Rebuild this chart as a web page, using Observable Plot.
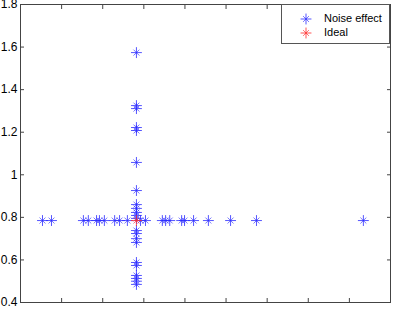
<!DOCTYPE html>
<html><head><meta charset="utf-8">
<script src="https://cdn.jsdelivr.net/npm/d3@7"></script>
<script src="https://cdn.jsdelivr.net/npm/@observablehq/plot@0.6"></script>
<style>
body{margin:0;background:#fff;font-family:"Liberation Sans",Arial,sans-serif;}
#wrap{position:relative;width:393px;height:310px;overflow:hidden;}
#legend{position:absolute;left:281px;top:4px;width:107px;height:38px;border:1px solid #555;background:#fff;font-size:11px;color:#000;}
.row{position:absolute;left:0;height:14px;line-height:14px;}
.row svg{position:absolute;left:18px;top:2px;}
.row span{position:absolute;left:42px;white-space:nowrap;}
</style></head><body>
<div id="wrap"></div>
<script>
// Noise-effect points: horizontal row (x positions at y = rowY)
const rowX = [0.535, 0.754, 1.53, 1.65, 1.85, 1.92, 2.04, 2.29, 2.41, 2.60, 2.92, 3.04, 3.45, 3.53, 3.63, 3.92, 3.99, 4.21, 4.57, 5.11, 5.74, 8.34];
const rowY = 0.785;
// vertical column (y values at x = colX)
const colX = 2.82;
const colY = [1.574, 1.325, 1.311, 1.222, 1.208, 1.058, 0.926, 0.860, 0.842, 0.823, 0.809, 0.795, 0.738, 0.724, 0.700, 0.682, 0.588, 0.574, 0.527, 0.513, 0.500, 0.485];
// ideal point
const idealX = [2.82];
const idealY = [0.785];
const xTicks = [0,1,2,3,4,5,6,7,8,9];
const yTicks = [0.4,0.6,0.8,1.0,1.2,1.4,1.6,1.8];
const yTickLabels = ["0.4","0.6","0.8","1","1.2","1.4","1.6","1.8"];
const seriesNames = ["Noise effect","Ideal"];
const seriesColors = ["#2a2aff","#ff2a2a"];

const noise = rowX.map(x => ({x, y: rowY})).concat(colY.map(y => ({x: colX, y})));
const ideal = idealX.map((x,i) => ({x, y: idealY[i]}));

const axisColor = "#444";
const T = 4;
const chart = Plot.plot({
  width: 393, height: 310,
  marginLeft: 20, marginRight: 3, marginTop: 4, marginBottom: 8,
  style: {fontFamily: "Liberation Sans, Arial, sans-serif", fontSize: "12px", background: "transparent", overflow: "visible"},
  x: {domain: [0, 9], ticks: xTicks, axis: null, label: null},
  y: {domain: [0.4, 1.8], ticks: yTicks, axis: null, label: null},
  marks: [
    Plot.frame({stroke: axisColor}),
    Plot.axisY(yTicks, {anchor: "left", tickSize: 0, tickPadding: 3, label: null, tickFormat: (d) => yTickLabels[yTicks.indexOf(d)], fill: "#000", fontSize: 12}),
    Plot.axisY(yTicks, {anchor: "left", tickSize: T, dx: T, text: null, label: null, stroke: axisColor}),
    Plot.axisY(yTicks, {anchor: "right", tickSize: T, dx: -T, text: null, label: null, stroke: axisColor}),
    Plot.axisX(xTicks, {anchor: "bottom", tickSize: T, dy: -T, text: null, label: null, stroke: axisColor}),
    Plot.axisX(xTicks, {anchor: "top", tickSize: T, dy: T, text: null, label: null, stroke: axisColor}),
    Plot.dot(noise, {x: "x", y: "y", symbol: "plus", r: 3.6, stroke: seriesColors[0], strokeWidth: 0.8}),
    Plot.dot(noise, {x: "x", y: "y", symbol: "times", r: 2.8, stroke: seriesColors[0], strokeWidth: 0.8, strokeOpacity: 0.8}),
    Plot.dot(ideal, {x: "x", y: "y", symbol: "plus", r: 3.6, stroke: seriesColors[1], strokeWidth: 0.8}),
    Plot.dot(ideal, {x: "x", y: "y", symbol: "times", r: 2.8, stroke: seriesColors[1], strokeWidth: 0.8, strokeOpacity: 0.8})
  ]
});
const wrap = document.getElementById("wrap");
wrap.appendChild(chart);

const legend = document.createElement("div");
legend.id = "legend";
const plusPath = d3.symbol(d3.symbolPlus, 3.6*3.6*Math.PI)();
const timesPath = d3.symbol(d3.symbolTimes, 2.8*2.8*Math.PI)();
seriesNames.forEach((name, i) => {
  const row = document.createElement("div");
  row.className = "row";
  row.style.top = (6 + i*14) + "px";
  row.innerHTML = `<svg width="12" height="12"><g transform="translate(6,6)" fill="none" stroke="${seriesColors[i]}" stroke-width="0.8"><path d="${plusPath}"/><path d="${timesPath}" stroke-opacity="0.8"/></g></svg><span>${name}</span>`;
  legend.appendChild(row);
});
wrap.appendChild(legend);
</script>
</body></html>
